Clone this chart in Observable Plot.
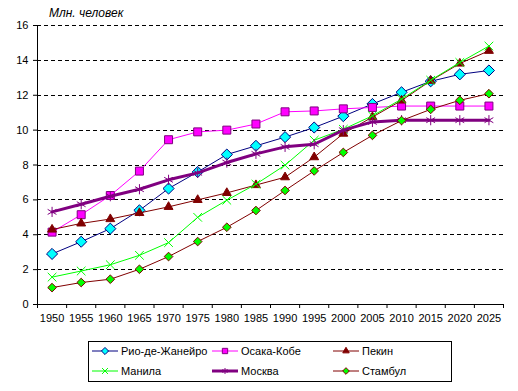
<!DOCTYPE html>
<html><head><meta charset="utf-8">
<script src="https://cdn.jsdelivr.net/npm/d3@7"></script>
<script src="https://cdn.jsdelivr.net/npm/@observablehq/plot@0.6"></script>
<style>
body{margin:0;background:#fff;font-family:Arial,"Liberation Sans",sans-serif;}
#wrap{position:relative;width:518px;height:391px;overflow:hidden;}
#title{position:absolute;left:49px;top:6px;font-size:12px;font-style:italic;line-height:14px;}
#legend{position:absolute;left:88px;top:341px;width:362px;height:39px;border:1px solid #000;font-size:11px;}
.item{position:absolute;display:flex;align-items:center;height:16px;white-space:nowrap;}
.item svg{margin-right:3px;}
</style></head><body>
<div id="wrap"><div id="chart"></div><div id="title">Млн. человек</div><div id="legend"></div></div>
<script>
const years = [1950,1955,1960,1965,1970,1975,1980,1985,1990,1995,2000,2005,2010,2015,2020,2025];
const yTicks = [0,2,4,6,8,10,12,14,16];
const seriesNames = ["Рио-де-Жанейро","Осака-Кобе","Пекин","Манила","Москва","Стамбул"];
const rio     = [2.9,3.6,4.35,5.4,6.65,7.6,8.6,9.1,9.6,10.15,10.8,11.5,12.17,12.8,13.2,13.42];
const osaka   = [4.15,5.15,6.25,7.65,9.45,9.9,10.0,10.35,11.05,11.1,11.22,11.3,11.38,11.38,11.38,11.38];
const beijing = [4.3,4.65,4.9,5.25,5.6,6.0,6.4,6.85,7.3,8.45,9.8,10.75,11.7,12.83,13.82,14.55];
const manila  = [1.57,1.92,2.28,2.82,3.55,5.0,5.98,6.9,7.99,9.42,10.05,10.82,11.78,12.86,13.88,14.82];
const moscow  = [5.31,5.75,6.21,6.61,7.15,7.55,8.14,8.64,9.04,9.19,10.0,10.47,10.57,10.57,10.57,10.57];
const istanbul= [0.97,1.26,1.45,2.02,2.75,3.61,4.43,5.39,6.54,7.66,8.72,9.7,10.55,11.19,11.71,12.09];
const seriesValues = [rio, osaka, beijing, manila, moscow, istanbul];

// styles (separate from data)
const styles = [
  {line:"#000080", width:1, symbol:"diamond2", r:5,   fill:"#00ffff", stroke:"#000080", lr:3.2},
  {line:"#ff00ff", width:1, symbol:"square",   r:4.5, fill:"#ff00ff", stroke:"#800080", lr:3},
  {line:"#800000", width:1, symbol:"triangle", r:3.3, fill:"#800000", stroke:"#800000", lr:2.4},
  {line:"#00ff00", width:1, symbol:"times",    r:4,   fill:"none",    stroke:"#00ff00", lr:2.8},
  {line:"#800080", width:3, symbol:"asterisk", r:4.8, fill:"none",    stroke:"#800080", lr:2.8},
  {line:"#800000", width:1, symbol:"diamond2", r:3.9, fill:"#00ff00", stroke:"#800000", lr:3}
];

const tables = seriesValues.map((vals, s) => years.map((y, i) => ({year: y, value: vals[i], series: seriesNames[s]})));
const step = years[1] - years[0];
const boundaries = years.map(y => y - step/2).concat([years[years.length-1] + step/2]);

const marks = [
  Plot.gridY(yTicks.filter(d => d > 0), {stroke:"#000", strokeOpacity:1, strokeDasharray:"4,3", shapeRendering:"crispEdges"}),
  Plot.axisY(yTicks, {tickSize:4, tickPadding:5, label:null, fontSize:11}),
  Plot.axisX(years, {tickSize:0, tickPadding:10, tickFormat: d => `${d}`, label:null, fontSize:11}),
  Plot.axisX(boundaries, {tickSize:4, tickFormat: () => "", label:null}),
  Plot.ruleY([0], {stroke:"#000"}),
  Plot.ruleX([boundaries[0]], {y1:0, y2:yTicks[yTicks.length-1], stroke:"#000"})
];
tables.forEach((t, s) => {
  const st = styles[s];
  marks.push(Plot.line(t, {x:"year", y:"value", stroke:st.line, strokeWidth:st.width}));
  marks.push(Plot.dot(t, {x:"year", y:"value", symbol:()=>st.symbol, r:st.r, fill:st.fill, stroke:st.stroke, strokeWidth:1}));
});

const chart = Plot.plot({
  width:518, height:336,
  marginLeft:37, marginRight:15, marginTop:25, marginBottom:32,
  style:{fontFamily:"Arial, 'Liberation Sans', sans-serif", fontSize:"11px", background:"#fff", color:"#000"},
  x:{domain:[boundaries[0], boundaries[boundaries.length-1]]},
  y:{domain:[yTicks[0], yTicks[yTicks.length-1]]},
  symbol:{type:"identity"},
  marks
});
document.getElementById("chart").appendChild(chart);

// legend
const legend = d3.select("#legend");
const symMap = {diamond2:d3.symbolDiamond2, square:d3.symbolSquare, triangle:d3.symbolTriangle, times:d3.symbolTimes, asterisk:d3.symbolAsterisk};
const colX = [3, 123, 244];
seriesNames.forEach((name, i) => {
  const st = styles[i];
  const item = legend.append("div").attr("class","item")
    .style("left", colX[i % 3] + "px").style("top", (i < 3 ? 1 : 21) + "px");
  const svg = item.append("svg").attr("width", 26).attr("height", 16);
  svg.append("line").attr("x1",0).attr("x2",26).attr("y1",8).attr("y2",8)
    .attr("stroke", st.line).attr("stroke-width", st.width);
  svg.append("path").attr("transform","translate(13,8)")
    .attr("d", d3.symbol(symMap[st.symbol], Math.PI*st.lr*st.lr)())
    .attr("fill", st.fill).attr("stroke", st.stroke).attr("stroke-width", 1);
  item.append("span").text(name);
});
</script>
</body></html>
